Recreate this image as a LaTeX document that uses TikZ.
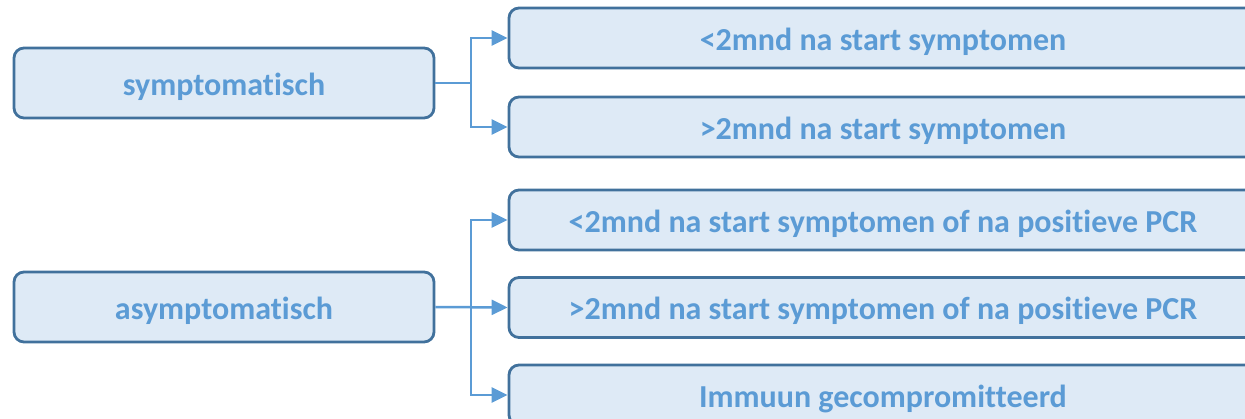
\documentclass[tikz,border=0pt]{standalone}
\usepackage{fontspec}
\setmainfont{Carlito}[Ligatures=NoCommon]
\usetikzlibrary{arrows.meta}
\definecolor{boxfill}{HTML}{DEEAF6}
\definecolor{boxline}{HTML}{41719C}
\definecolor{txtblue}{HTML}{5B9BD5}
\tikzset{
  box/.style={draw=boxline, fill=boxfill, line width=2.8pt, rounded corners=10pt,
    text=txtblue, font=\fontsize{32}{36}\selectfont\bfseries, inner sep=0pt,
    text height=25pt, text depth=0pt},
  leftbox/.style={box, minimum width=420pt, minimum height=70pt},
  rightbox/.style={box, minimum width=748pt, minimum height=60pt},
  conn/.style={draw=txtblue, line width=2.5pt, -{Triangle[length=16pt,width=15pt]}},
  trunk/.style={draw=txtblue, line width=2.5pt}
}
\begin{document}
\begin{tikzpicture}[x=1pt,y=-1pt]
\useasboundingbox (0,0) rectangle (1245,419);
\clip (0,0) rectangle (1245,419);
\node[leftbox] (sym) at (224,83) {symptomatisch};
\node[leftbox] (asym) at (224,307) {asymptomatisch};
\node[rightbox] (r1) at (883,38) {<2mnd na start symptomen};
\node[rightbox] (r2) at (883,127) {>2mnd na start symptomen};
\node[rightbox] (r3) at (883,220) {<2mnd na start symptomen of na positieve PCR};
\node[rightbox] (r4) at (883,307.5) {>2mnd na start symptomen of na positieve PCR};
\node[rightbox] (r5) at (883,395) {Immuun gecompromitteerd};
\coordinate (j1) at (471,83);
\coordinate (j2) at (471,307);
\draw[trunk] (sym.east) -- (j1);
\draw[conn] (j1) |- (r1.west);
\draw[conn] (j1) |- (r2.west);
\draw[conn] (asym.east) -- (r4.west);
\draw[conn] (j2) |- (r3.west);
\draw[conn] (j2) |- (r5.west);
\end{tikzpicture}
\end{document}
